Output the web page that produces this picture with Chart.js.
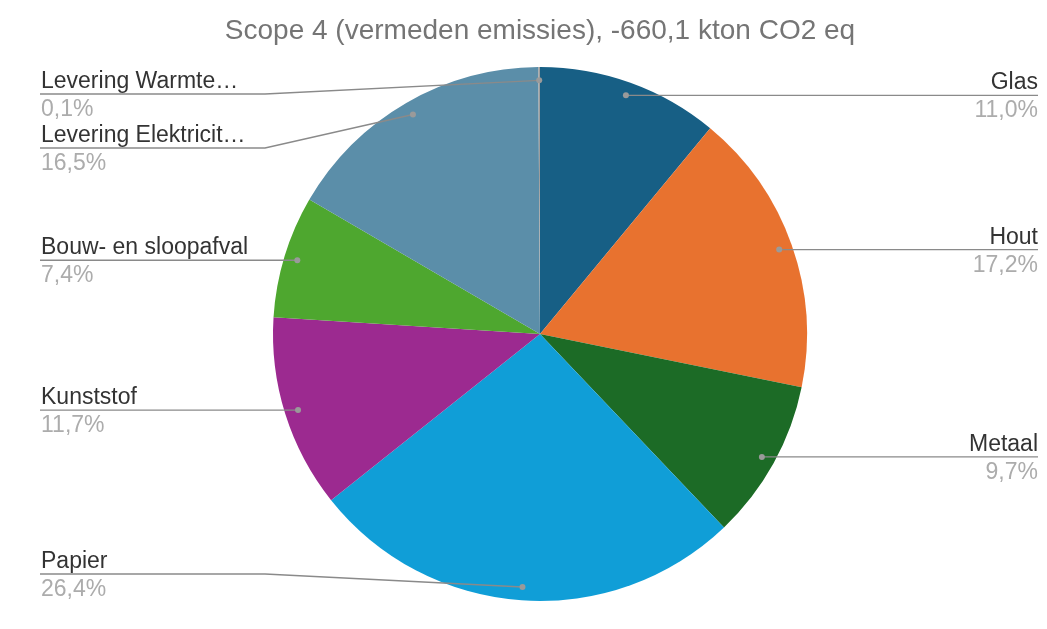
<!DOCTYPE html>
<html>
<head>
<meta charset="utf-8">
<script src="https://cdn.jsdelivr.net/npm/chart.js@4"></script>
<style>
  html, body { margin: 0; padding: 0; background: #fff; }
  #wrap { width: 1047px; height: 629px; }
</style>
</head>
<body>
<div id="wrap"><canvas id="myChart"></canvas></div>
<script>
const titleText = "Scope 4 (vermeden emissies), -660,1 kton CO2 eq";
const categories = ["Glas", "Hout", "Metaal", "Papier", "Kunststof", "Bouw- en sloopafval", "Levering Elektriciteit", "Levering Warmte"];
const shortLabels = ["Glas", "Hout", "Metaal", "Papier", "Kunststof", "Bouw- en sloopafval", "Levering Elektricit\u2026", "Levering Warmte\u2026"];
const shares = [11.0, 17.2, 9.7, 26.4, 11.7, 7.4, 16.5, 0.1];
const colors = ["#175f85", "#e8722f", "#1c6b26", "#109ed7", "#9c2a90", "#4ea72f", "#5b8ea9", "#9e9e9e"];

const fontFam = "'Liberation Sans', Arial, sans-serif";

// draws labels with leader lines, like the original sheet chart
const outerLabels = {
    id: 'outerLabels',
    afterDatasetsDraw(chart) {
        const ctx = chart.ctx;
        const meta = chart.getDatasetMeta(0);
        const area = chart.chartArea;
        const gap = 54;
        const items = [];
        meta.data.forEach((arc, i) => {
            const p = arc.getProps(['x', 'y', 'startAngle', 'endAngle', 'outerRadius']);
            const mid = (p.startAngle + p.endAngle) / 2;
            const r = p.outerRadius * 0.95;
            const dx = p.x + Math.cos(mid) * r;
            const dy = p.y + Math.sin(mid) * r;
            items.push({ i, dx, dy, cx: p.x, R: p.outerRadius, right: dx > p.x + 1 });
        });
        const minY = area.top + 27;
        const maxY = area.bottom - 27;
        [true, false].forEach(side => {
            const list = items.filter(it => it.right === side).sort((a, b) => a.dy - b.dy);
            let prev = -Infinity;
            list.forEach(it => {
                let y = Math.min(Math.max(it.dy, minY), maxY);
                y = Math.max(y, prev + gap);
                it.ly = y;
                prev = y;
            });
        });
        ctx.save();
        items.forEach(it => {
            const leftX = 40, rightX = 1038;
            ctx.strokeStyle = '#8a8a8a';
            ctx.lineWidth = 1.4;
            ctx.beginPath();
            if (it.right) {
                const elbow = it.cx + it.R + 8;
                ctx.moveTo(it.dx, it.dy);
                if (Math.abs(it.ly - it.dy) > 0.5) ctx.lineTo(elbow, it.ly);
                ctx.lineTo(rightX, it.ly);
            } else {
                const elbow = 265;
                ctx.moveTo(it.dx, it.dy);
                ctx.lineTo(elbow, it.ly);
                ctx.lineTo(leftX, it.ly);
            }
            ctx.stroke();
            ctx.fillStyle = '#9a9a9a';
            ctx.beginPath();
            ctx.arc(it.dx, it.dy, 3, 0, Math.PI * 2);
            ctx.fill();

            ctx.font = '23px ' + fontFam;
            ctx.textAlign = it.right ? 'right' : 'left';
            const tx = it.right ? rightX : leftX + 1;
            ctx.textBaseline = 'alphabetic';
            ctx.fillStyle = '#333333';
            ctx.fillText(shortLabels[it.i], tx, it.ly - 6);
            ctx.fillStyle = '#acacac';
            ctx.fillText(shares[it.i].toFixed(1).replace('.', ',') + '%', tx, it.ly + 22);
        });
        ctx.restore();
    }
};

const ctx = document.getElementById('myChart').getContext('2d');
const myChart = new Chart(ctx, {
    type: 'pie',
    data: {
        labels: categories,
        datasets: [{
            data: shares,
            backgroundColor: colors,
            borderWidth: 0
        }]
    },
    options: {
        responsive: true,
        maintainAspectRatio: false,
        animation: false,
        layout: { padding: { top: 0, bottom: 28, left: 33, right: 0 } },
        plugins: {
            legend: { display: false },
            tooltip: { enabled: false },
            title: {
                display: true,
                text: titleText,
                color: '#757575',
                font: { family: fontFam, size: 28, weight: 'normal' },
                padding: { top: 14, bottom: 19.4 }
            }
        }
    },
    plugins: [outerLabels]
});
</script>
</body>
</html>
